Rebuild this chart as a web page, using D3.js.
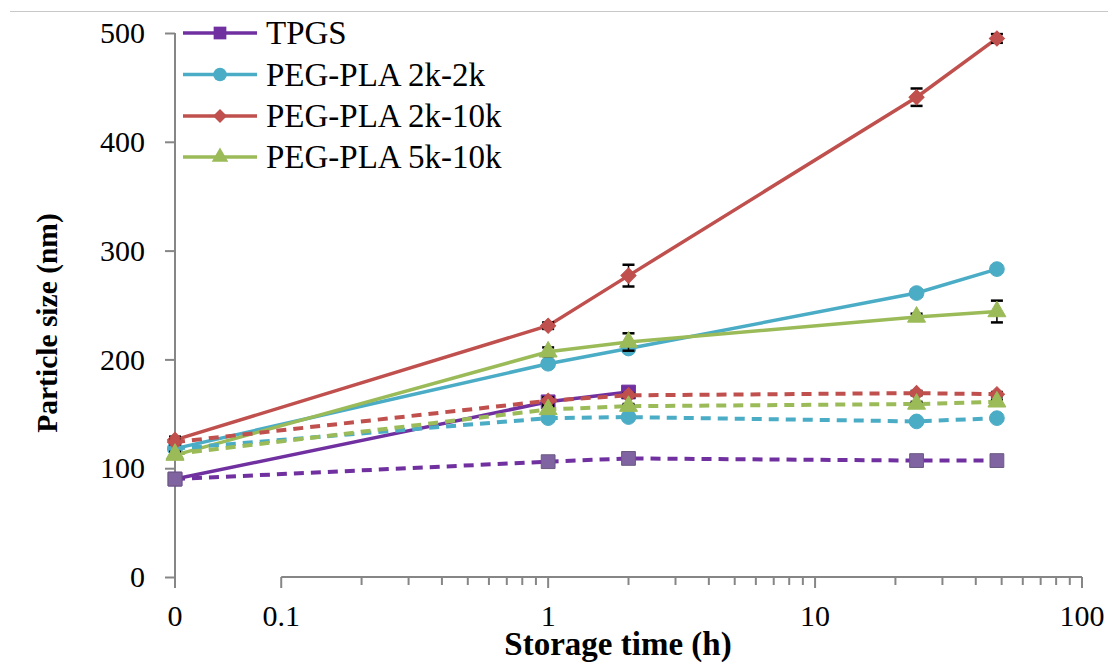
<!DOCTYPE html>
<meta charset="utf-8">
<body style="margin:0;background:#fff">
<script src="https://d3js.org/d3.v7.min.js"></script>
<script>

var width = 1108,
    height = 664;

// storage time (h); 0 is drawn on its own spot left of the log axis
var times = [0, 1, 2, 24, 48];
var seriesNames = ["TPGS", "PEG-PLA 2k-2k", "PEG-PLA 2k-10k", "PEG-PLA 5k-10k"];
var xTicks = [0.1, 1, 10, 100];
var yTicks = [0, 100, 200, 300, 400, 500];

// solid lines
var tpgsSolid   = [90, 161, 170, null, null];
var peg22Solid  = [118, 196, 210, 261, 283];
var peg210Solid = [126, 231, 277, 441, 495];
var peg510Solid = [112, 207, 216, 239, 244];
// dashed lines
var tpgsDashed   = [90, 106, 109, 107, 107];
var peg22Dashed  = [118, 146, 147, 143, 146];
var peg210Dashed = [124, 162, 167, 169, 168];
var peg510Dashed = [113, 154, 157, 159, 161];
// error (sd)
var tpgsSolidErr   = [3, 3, 4, null, null];
var peg22SolidErr  = [3, 3, 3, 3, 3];
var peg210SolidErr = [3, 3, 10, 8, 4];
var peg510SolidErr = [3, 4, 8, 3, 10];
var tpgsDashedErr   = [2, 3, 3, 2, 2];
var peg22DashedErr  = [2, 3, 2, 2, 2];
var peg210DashedErr = [2, 3, 2, 2, 2];
var peg510DashedErr = [2, 3, 2, 2, 2];

var colors = ["#7030A0", "#4BACC6", "#C0504D", "#9BBB59"];
var symbols = ["square", "circle", "diamond", "triangle"];

var serif = "'Liberation Serif'";

var margin = {left: 175, right: 26, top: 33, bottom: 87};
var zeroAt = 0.04; // where the "0" sits on the log scale

var x = d3.scaleLog()
    .domain([zeroAt, 100])
    .range([margin.left, width - margin.right]);
var y = d3.scaleLinear()
    .domain([0, 500])
    .range([height - margin.bottom, margin.top]);

var xPos = t => x(t === 0 ? zeroAt : t);

var svg = d3.select("body").append("svg")
    .attr("width", width)
    .attr("height", height);

// thin frame line at the top
svg.append("line")
    .attr("x1", 10).attr("x2", width)
    .attr("y1", 11.5).attr("y2", 11.5)
    .attr("stroke", "#c8c8c8").attr("stroke-width", 1);

var axisColor = "#868686";

// y axis
var yAxis = svg.append("g")
    .attr("transform", "translate(" + margin.left + ",0)")
    .call(d3.axisLeft(y).tickValues(yTicks).tickSize(10).tickPadding(20));
yAxis.attr("font-family", serif).attr("font-size", 30);
yAxis.selectAll("path, line").attr("stroke", axisColor).attr("stroke-width", 2);
yAxis.select(".domain").attr("d", "M0," + y(500) + "V" + y(0));
yAxis.selectAll("text").style("font-family", serif).style("font-size", "30px").attr("fill", "#000");

// x axis (log part)
var minorTicks = [];
[0.1, 1, 10].forEach(function(d) {
  for (var k = 2; k <= 9; k++) minorTicks.push(d * k);
});
var base = y(0);
var xg = svg.append("g");
xg.append("line")
    .attr("x1", x(0.1)).attr("x2", x(100))
    .attr("y1", base).attr("y2", base)
    .attr("stroke", axisColor).attr("stroke-width", 2);
xg.selectAll(".minor")
    .data(minorTicks)
  .enter().append("line")
    .attr("x1", d => x(d)).attr("x2", d => x(d))
    .attr("y1", base).attr("y2", base + 8)
    .attr("stroke", axisColor).attr("stroke-width", 2);
xg.selectAll(".major")
    .data([0].concat(xTicks))
  .enter().append("line")
    .attr("x1", d => xPos(d)).attr("x2", d => xPos(d))
    .attr("y1", base).attr("y2", base + 11)
    .attr("stroke", axisColor).attr("stroke-width", 2);
xg.selectAll(".lbl")
    .data([0].concat(xTicks))
  .enter().append("text")
    .attr("x", d => xPos(d))
    .attr("y", base + 49)
    .attr("text-anchor", "middle")
    .style("font-family", serif)
    .style("font-size", "30px")
    .text(d => String(d));

// axis titles
svg.append("text")
    .attr("x", 618).attr("y", 655)
    .attr("text-anchor", "middle")
    .style("font-family", serif)
    .style("font-size", "33px").style("font-weight", "bold")
    .text("Storage time (h)");
svg.append("text")
    .attr("transform", "translate(57,323) rotate(-90)")
    .attr("text-anchor", "middle")
    .style("font-family", serif)
    .style("font-size", "29.5px").style("font-weight", "bold")
    .text("Particle size (nm)");

function symbolPath(kind, big) {
  var s = big ? 1 : 0.85;
  if (kind === "square") return d3.symbol(d3.symbolSquare, 190 * s)();
  if (kind === "circle") return d3.symbol(d3.symbolCircle, 170 * s)();
  if (kind === "diamond") return d3.symbol(d3.symbolSquare, 115 * s)();
  return d3.symbol(d3.symbolTriangle, 140 * s)();
}

var solid = [tpgsSolid, peg22Solid, peg210Solid, peg510Solid];
var solidErr = [tpgsSolidErr, peg22SolidErr, peg210SolidErr, peg510SolidErr];
var dashed = [tpgsDashed, peg22Dashed, peg210Dashed, peg510Dashed];
var dashedErr = [tpgsDashedErr, peg22DashedErr, peg210DashedErr, peg510DashedErr];

function toPoints(vals, errs) {
  return times.map((t, i) => ({t: t, v: vals[i], e: errs[i]})).filter(d => d.v != null);
}

var line = d3.line().x(d => xPos(d.t)).y(d => y(d.v));

function drawSeries(vals, errs, i, isDashed) {
  var pts = toPoints(vals, errs);
  var g = svg.append("g");
  g.append("path")
      .datum(pts)
      .attr("d", line)
      .attr("fill", "none")
      .attr("stroke", colors[i])
      .attr("stroke-width", isDashed ? 4 : 3.5)
      .attr("stroke-dasharray", isDashed ? "10,7" : null);
  // error bars
  var eb = g.selectAll(".err").data(pts).enter().append("g");
  eb.append("line")
      .attr("x1", d => xPos(d.t)).attr("x2", d => xPos(d.t))
      .attr("y1", d => y(d.v - d.e)).attr("y2", d => y(d.v + d.e))
      .attr("stroke", "#000").attr("stroke-width", 1.5);
  eb.selectAll(".cap").data(d => [d.v - d.e, d.v + d.e].map(v => ({t: d.t, v: v})))
    .enter().append("line")
      .attr("x1", d => xPos(d.t) - 6).attr("x2", d => xPos(d.t) + 6)
      .attr("y1", d => y(d.v)).attr("y2", d => y(d.v))
      .attr("stroke", "#000").attr("stroke-width", 2.5);
  // markers
  var fill = colors[i];
  var stroke = colors[i];
  if (isDashed && i === 0) { fill = "#8064A2"; stroke = "#6a5a80"; }
  g.selectAll(".mk").data(pts).enter().append("path")
      .attr("d", symbolPath(symbols[i], true))
      .attr("transform", d => "translate(" + xPos(d.t) + "," + y(d.v) + ")" +
            (symbols[i] === "diamond" ? " rotate(45)" : ""))
      .attr("fill", fill)
      .attr("stroke", stroke)
      .attr("stroke-width", 1);
}

solid.forEach((s, i) => drawSeries(s, solidErr[i], i, false));
dashed.forEach((s, i) => drawSeries(s, dashedErr[i], i, true));

// legend
var legend = svg.append("g");
var rowY = [33, 74.5, 116, 157];
seriesNames.forEach(function(name, i) {
  var row = legend.append("g").attr("transform", "translate(0," + rowY[i] + ")");
  row.append("line")
      .attr("x1", 183).attr("x2", 257)
      .attr("stroke", colors[i]).attr("stroke-width", 3.5);
  row.append("path")
      .attr("d", symbolPath(symbols[i], false))
      .attr("transform", "translate(220,0)" + (symbols[i] === "diamond" ? " rotate(45)" : ""))
      .attr("fill", colors[i]);
  row.append("text")
      .attr("x", 266).attr("y", 11)
      .style("font-family", serif)
      .style("font-size", "33px")
      .text(name);
});

</script>
